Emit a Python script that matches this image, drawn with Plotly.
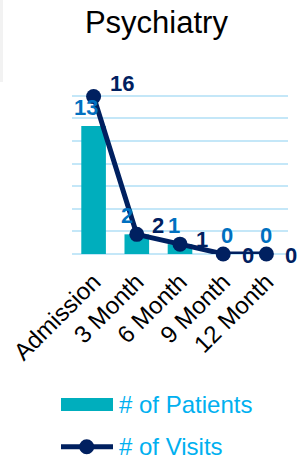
import plotly.graph_objects as go

categories = ["Admission", "3 Month", "6 Month", "9 Month", "12 Month"]
patients = [13, 2, 1, 0, 0]
visits = [16, 2, 1, 0, 0]
title_text = "Psychiatry"
legend_names = ["# of Patients", "# of Visits"]

BAR_COLOR = "#00AEBD"
LINE_COLOR = "#002060"
BAR_LABEL_COLOR = "#0070C0"
LEGEND_TEXT_COLOR = "#00B0F0"
GRID_COLOR = "#C4E7F8"
FONT = "Liberation Sans, Arial, sans-serif"

W, H = 299, 462
L, R, T, B = 72, 11, 73, 208
PW, PH = W - L - R, H - T - B


def px(x):
    return (x - L) / PW


def py(y):
    return (H - B - y) / PH


fig = go.Figure()
fig.add_trace(go.Bar(x=categories, y=patients, name=legend_names[0],
                     marker=dict(color=BAR_COLOR, line=dict(width=0)),
                     width=0.57, showlegend=False))
fig.add_trace(go.Scatter(x=categories, y=visits, name=legend_names[1],
                         mode="lines+markers",
                         line=dict(color=LINE_COLOR, width=5),
                         marker=dict(color=LINE_COLOR, size=15),
                         showlegend=False, cliponaxis=False))

bar_nudge = [-8, -10, -6, 4, 0]
line_nudge = [(28, 13), (21, 9), (22, 5), (25, -1), (25, -1)]
annotations = []
for i, (c, v) in enumerate(zip(categories, patients)):
    annotations.append(dict(x=c, y=v, text=str(v), showarrow=False,
                            xshift=bar_nudge[i], yshift=19,
                            font=dict(family=FONT, size=22, color=BAR_LABEL_COLOR, weight="bold")))
for i, (c, v) in enumerate(zip(categories, visits)):
    dx, dy = line_nudge[i]
    annotations.append(dict(x=c, y=v, text=str(v), showarrow=False,
                            xshift=dx, yshift=dy,
                            font=dict(family=FONT, size=22, color=LINE_COLOR, weight="bold")))

# legend (drawn manually to match the wide swatches)
annotations.append(dict(xref="paper", yref="paper", x=px(117), y=py(404), text=legend_names[0],
                        showarrow=False, xanchor="left", yanchor="middle",
                        font=dict(family=FONT, size=24, color=LEGEND_TEXT_COLOR)))
annotations.append(dict(xref="paper", yref="paper", x=px(117), y=py(446), text=legend_names[1],
                        showarrow=False, xanchor="left", yanchor="middle",
                        font=dict(family=FONT, size=24, color=LEGEND_TEXT_COLOR)))

shapes = [
    dict(type="rect", xref="paper", yref="paper", x0=px(0), x1=px(3), y0=py(82), y1=py(0),
         fillcolor="#F2F2F2", line=dict(width=0), layer="below"),
    dict(type="rect", xref="paper", yref="paper", x0=px(61), x1=px(113), y0=py(411), y1=py(398),
         fillcolor=BAR_COLOR, line=dict(width=0)),
    dict(type="line", xref="paper", yref="paper", x0=px(61), x1=px(113), y0=py(446.7), y1=py(446.7),
         line=dict(color=LINE_COLOR, width=5)),
    dict(type="circle", xref="paper", yref="paper", x0=px(79.2), x1=px(94.2), y0=py(454.2), y1=py(439.2),
         fillcolor=LINE_COLOR, line=dict(width=0)),
]

fig.update_layout(
    width=W, height=H,
    margin=dict(l=L, r=R, t=T, b=B, pad=0, autoexpand=False),
    paper_bgcolor="white", plot_bgcolor="white",
    title=dict(text=title_text, x=156.4 / W, xanchor="center", y=1 - 22 / H, yanchor="middle",
               font=dict(family=FONT, size=31, color="black")),
    xaxis=dict(type="category", range=[-0.5, len(categories) - 0.5], tickangle=-45,
               ticks="", showline=False, showgrid=False, ticklabelstandoff=8,
               tickfont=dict(family=FONT, size=24, color="black"), fixedrange=True, automargin=False),
    yaxis=dict(range=[0, 18.4], dtick=2.3, showticklabels=False, ticks="",
               showgrid=True, gridcolor=GRID_COLOR, gridwidth=1.5,
               zeroline=True, zerolinecolor=GRID_COLOR, zerolinewidth=1.5, fixedrange=True),
    annotations=annotations, shapes=shapes,
    showlegend=False, bargap=0.43,
)

fig.write_html("out.html", config={"displayModeBar": False},
               post_script="document.body.style.margin='0';document.body.style.overflow='hidden';")
